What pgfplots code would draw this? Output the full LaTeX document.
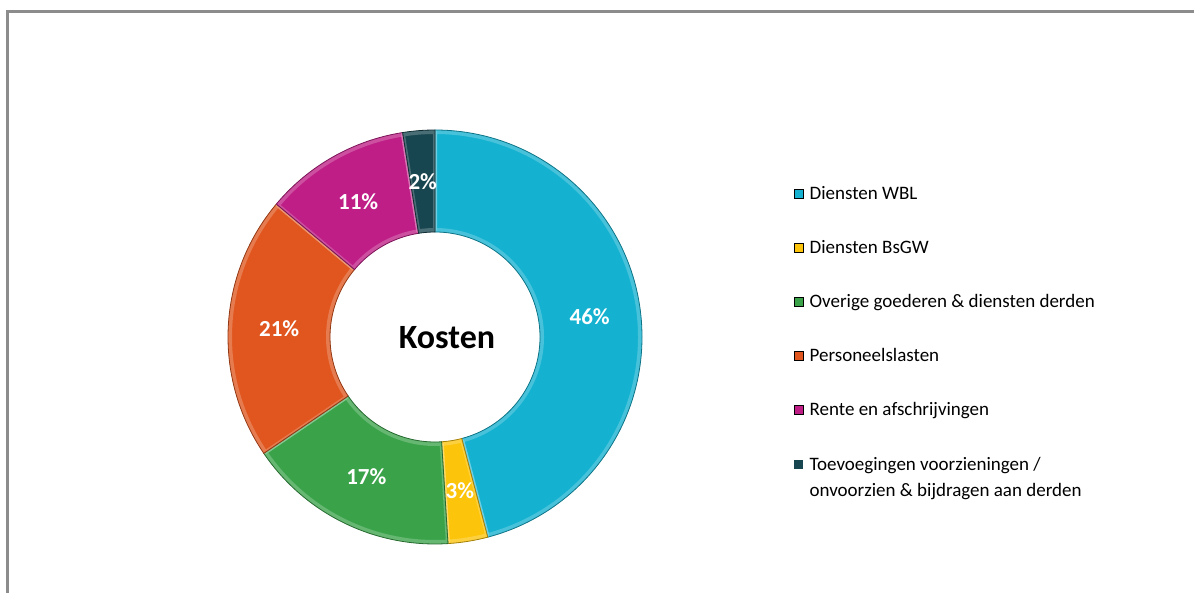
\documentclass[border=0pt]{standalone}
\usepackage{pgfplots}
\usepackage{pgfplotstable}
\pgfplotsset{compat=1.18}
\usepackage{fontspec}
\setmainfont{Carlito}

\definecolor{cWBL}{RGB}{20,178,208}
\definecolor{cBsGW}{RGB}{252,196,10}
\definecolor{cOverig}{RGB}{58,163,74}
\definecolor{cPers}{RGB}{224,86,30}
\definecolor{cRente}{RGB}{190,30,134}
\definecolor{cToev}{RGB}{24,70,80}
\definecolor{framegray}{RGB}{140,140,140}

% aandeel in de kosten (%), met de klok mee vanaf boven
\pgfplotstableread{
value label color
45.9  46 cWBL
3.1   3  cBsGW
16.5  17 cOverig
20.6  21 cPers
11.4  11 cRente
2.5   2  cToev
}\kosten

\begin{document}
\begin{tikzpicture}
\path[use as bounding box] (0,0) rectangle (1194pt,592pt);
\begin{axis}[
  at={(0,0)}, anchor=south west,
  x=1pt, y=1pt,
  xmin=0, xmax=1194, ymin=0, ymax=592,
  hide axis,
  legend style={
    at={(axis cs:791,410)}, anchor=north west,
    draw=none, fill=none,
    font=\fontsize{19}{26}\selectfont,
    row sep=35.5pt,
    cells={anchor=west, align=left},
    /tikz/every odd column/.append style={column sep=4pt},
  },
  legend image code/.code={\fill[#1] (0pt,-4.5pt) rectangle (9pt,4.5pt);},
]
% kader
\draw[framegray, line width=2.5pt] (axis cs:7.5,-20) -- (axis cs:7.5,580.5) -- (axis cs:1220,580.5);

\def\cum{0}
\pgfplotsforeachungrouped \i in {0,...,5}{%
  \pgfplotstablegetelem{\i}{value}\of\kosten \let\val\pgfplotsretval
  \pgfplotstablegetelem{\i}{label}\of\kosten \let\lab\pgfplotsretval
  \pgfplotstablegetelem{\i}{color}\of\kosten \let\slicecol\pgfplotsretval
  \pgfmathsetmacro\aone{90-3.6*\cum}%
  \pgfmathsetmacro\cum{\cum+\val}%
  \pgfmathsetmacro\atwo{90-3.6*\cum}%
  \pgfmathsetmacro\amid{(\aone+\atwo)/2}%
  \edef\temp{%
    \noexpand\fill[\slicecol]
      (axis cs:{435+207*cos(\aone)},{255+207*sin(\aone)})
      arc[start angle=\aone, end angle=\atwo, radius=207pt]
      -- (axis cs:{435+105*cos(\atwo)},{255+105*sin(\atwo)})
      arc[start angle=\atwo, end angle=\aone, radius=105pt] -- cycle;
    \noexpand\draw[white, opacity=0.22, line width=4pt, line join=round]
      (axis cs:{435+205*cos(\aone)},{255+205*sin(\aone)})
      arc[start angle=\aone, end angle=\atwo, radius=205pt]
      -- (axis cs:{435+107*cos(\atwo)},{255+107*sin(\atwo)})
      arc[start angle=\atwo, end angle=\aone, radius=107pt] -- cycle;
    \noexpand\draw[\slicecol!65!black, line width=0.8pt]
      (axis cs:{435+207*cos(\aone)},{255+207*sin(\aone)})
      arc[start angle=\aone, end angle=\atwo, radius=207pt]
      -- (axis cs:{435+105*cos(\atwo)},{255+105*sin(\atwo)})
      arc[start angle=\atwo, end angle=\aone, radius=105pt] -- cycle;
    \noexpand\node[text=white, font=\noexpand\fontsize{23}{26}\noexpand\selectfont\noexpand\bfseries]
      at (axis cs:{435+156*cos(\amid)},{255+156*sin(\amid)}) {\lab\noexpand\%};
  }\temp
}

\node[font=\fontsize{34}{36}\selectfont\bfseries] at (axis cs:447,254) {Kosten};

\addlegendimage{fill=cWBL}
\addlegendentry{Diensten WBL}
\addlegendimage{fill=cBsGW}
\addlegendentry{Diensten BsGW}
\addlegendimage{fill=cOverig}
\addlegendentry{Overige goederen \& diensten derden}
\addlegendimage{fill=cPers}
\addlegendentry{Personeelslasten}
\addlegendimage{fill=cRente}
\addlegendentry{Rente en afschrijvingen}
\addlegendimage{legend image code/.code={%
  \path[draw=none, fill=none] (0pt,-17.5pt) rectangle (9pt,17.5pt);
  \fill[cToev, draw=none] (0pt,8.5pt) rectangle (9pt,17.5pt);}}
\addlegendentry{Toevoegingen voorzieningen /\\onvoorzien \& bijdragen aan derden}
\end{axis}
\end{tikzpicture}
\end{document}
